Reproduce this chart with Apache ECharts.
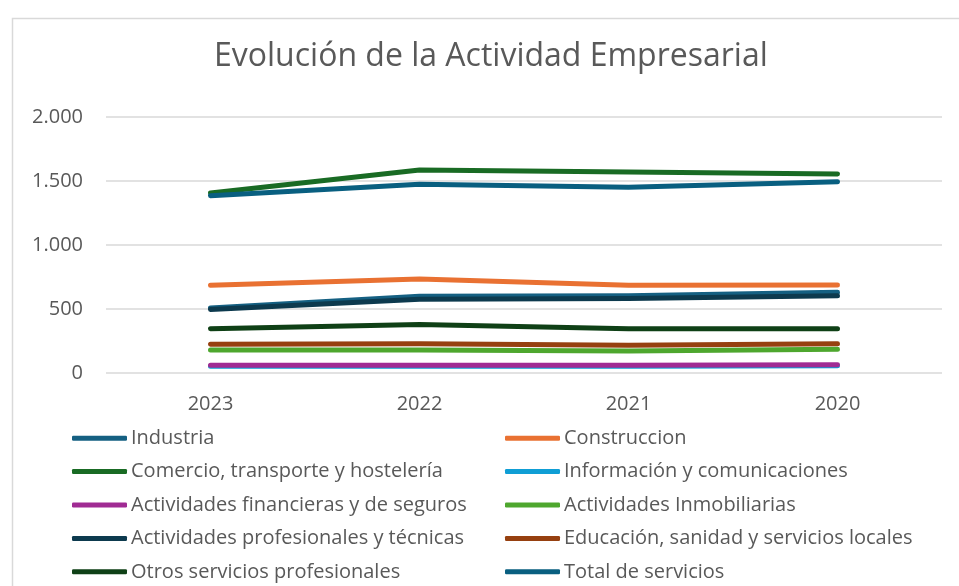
<!DOCTYPE html>
<html>
<head>
<meta charset="utf-8">
<script src="https://cdn.jsdelivr.net/npm/echarts@6/dist/echarts.min.js"></script>
<style>
  html, body { margin: 0; padding: 0; background: #fff; }
  #chart { width: 959px; height: 586px; }
</style>
</head>
<body>
<div id="chart"></div>
<script>
const years = ["2023", "2022", "2021", "2020"];

const industria = [508, 600, 604, 630];
const construccion = [685, 734, 685, 687];
const comercio = [1406, 1586, 1570, 1555];
const informacion = [52, 52, 52, 56];
const financieras = [60, 60, 60, 65];
const inmobiliarias = [180, 180, 172, 185];
const profesionales = [497, 576, 583, 604];
const educacion = [224, 229, 216, 229];
const otros = [346, 378, 346, 346];
const totalServicios = [1385, 1474, 1451, 1495];

const seriesList = [
  { name: "Industria", data: industria, color: "#156082" },
  { name: "Construccion", data: construccion, color: "#E97132" },
  { name: "Comercio, transporte y hostelería", data: comercio, color: "#196B24" },
  { name: "Información y comunicaciones", data: informacion, color: "#0F9ED5" },
  { name: "Actividades financieras y de seguros", data: financieras, color: "#A02B93" },
  { name: "Actividades Inmobiliarias", data: inmobiliarias, color: "#4EA72E" },
  { name: "Actividades profesionales y técnicas", data: profesionales, color: "#0D3A4E" },
  { name: "Educación, sanidad y servicios locales", data: educacion, color: "#964010" },
  { name: "Otros servicios profesionales", data: otros, color: "#0F4016" },
  { name: "Total de servicios", data: totalServicios, color: "#095F80" },
];

const FONT = "'Open Sans', Roboto, sans-serif";
const TEXT_COLOR = "#595959";

const legendBase = {
  orient: "vertical",
  top: 427,
  padding: 0,
  itemWidth: 55,
  itemHeight: 5,
  itemGap: 11,
  icon: "roundRect",
  textStyle: { fontFamily: FONT, fontSize: 20, color: TEXT_COLOR, lineHeight: 22.4, padding: [0, 0, 0, -1] },
};

const chart = echarts.init(document.getElementById("chart"));

chart.setOption({
  animation: false,
  color: seriesList.map((s) => s.color),
  title: {
    text: "Evolución de la Actividad Empresarial",
    left: 214,
    top: 41,
    padding: 0,
    textStyle: { fontFamily: FONT, fontSize: 32, fontWeight: 400, color: TEXT_COLOR },
  },
  legend: [
    Object.assign({}, legendBase, {
      left: 72,
      data: seriesList.filter((s, i) => i % 2 === 0).map((s) => s.name),
    }),
    Object.assign({}, legendBase, {
      left: 505,
      data: seriesList.filter((s, i) => i % 2 === 1).map((s) => s.name),
    }),
  ],
  grid: { left: 106, right: 17, top: 117, bottom: 213 },
  xAxis: {
    type: "category",
    data: years,
    boundaryGap: true,
    axisLine: { show: false },
    axisTick: { show: false },
    axisLabel: { fontFamily: FONT, fontSize: 20, color: TEXT_COLOR, margin: 21 },
  },
  yAxis: {
    type: "value",
    min: 0,
    max: 2000,
    interval: 500,
    axisLine: { show: false },
    axisTick: { show: false },
    axisLabel: {
      fontFamily: FONT,
      fontSize: 20,
      color: TEXT_COLOR,
      margin: 23,
      formatter: (v) => v.toLocaleString("de-DE"),
    },
    splitLine: { lineStyle: { color: "#d9d9d9", width: 1.5 } },
  },
  graphic: [
    {
      type: "rect",
      shape: { x: 12.5, y: 18.5, width: 1000, height: 700 },
      style: { fill: "none", stroke: "#d9d9d9", lineWidth: 1.5 },
      silent: true,
    },
  ],
  series: seriesList.map((s) => ({
    name: s.name,
    type: "line",
    data: s.data,
    showSymbol: false,
    symbol: "none",
    lineStyle: { width: 5, color: s.color, cap: "round", join: "round" },
    itemStyle: { color: s.color },
  })),
});
</script>
</body>
</html>
